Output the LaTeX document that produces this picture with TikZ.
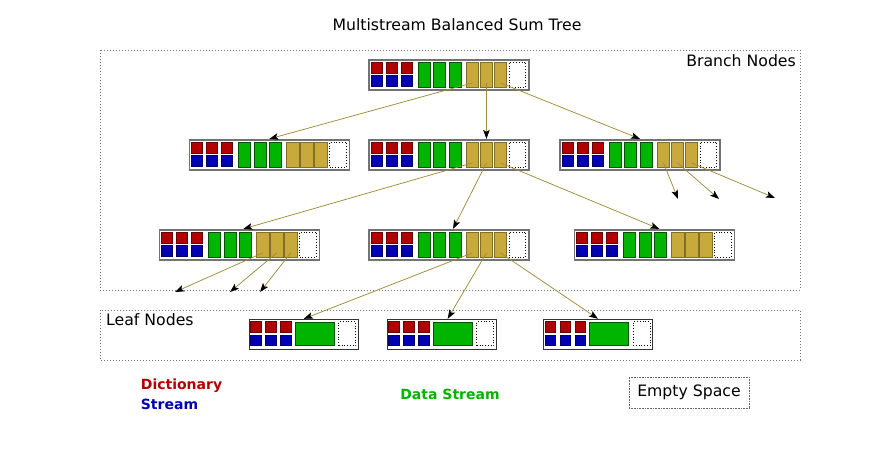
\documentclass[tikz,border=0pt]{standalone}
\usepackage{fontspec}
\setmainfont{DejaVu Sans}
\usetikzlibrary{arrows.meta,calc}

\definecolor{dictred}{RGB}{178,0,0}
\definecolor{streamblue}{RGB}{0,0,178}
\definecolor{datagreen}{RGB}{0,180,0}
\definecolor{sumgold}{RGB}{200,170,60}
\definecolor{linkolive}{RGB}{160,140,60}

% branch node: name, centre
\newcommand{\branchnode}[2]{%
	\node[branchbox] (#1) at (#2) {};
	\foreach \dx in {3,18,33} {
		\node[dictslot] at ([xshift=\dx pt,yshift=-3pt]#1.north west) {};
		\node[streamslot] at ([xshift=\dx pt,yshift=-16.5pt]#1.north west) {};
	}
	\foreach \i/\dx in {1/50,2/65.5,3/81}
		\node[dataslot] (#1-d\i) at ([xshift=\dx pt,yshift=-3pt]#1.north west) {};
	\foreach \i/\dx in {1/98,2/112,3/126}
		\node[sumslot] (#1-g\i) at ([xshift=\dx pt,yshift=-3pt]#1.north west) {};
	\node[emptyslot,minimum width=16.5pt] (#1-e) at ([xshift=141pt,yshift=-3pt]#1.north west) {};
}

% leaf node: name, centre
\newcommand{\leafnode}[2]{%
	\node[leafbox] (#1) at (#2) {};
	\foreach \dx in {2,17,32} {
		\node[dictslot,minimum size=10.5pt] at ([xshift=\dx pt,yshift=-2.7pt]#1.north west) {};
		\node[streamslot,minimum size=10.5pt] at ([xshift=\dx pt,yshift=-16.5pt]#1.north west) {};
	}
	\node[dataslot,minimum width=39pt,minimum height=23.5pt] (#1-d) at ([xshift=46.7pt,yshift=-3.3pt]#1.north west) {};
	\node[emptyslot,minimum width=17pt,minimum height=24pt] (#1-e) at ([xshift=90pt,yshift=-3pt]#1.north west) {};
}

\begin{document}
\begin{tikzpicture}[x=1pt,y=-1pt,
	slot/.style={anchor=north west,inner sep=0,outer sep=0,line width=.8pt},
	dictslot/.style={slot,minimum size=11pt,fill=dictred,draw=dictred!60!black},
	streamslot/.style={slot,minimum size=11pt,fill=streamblue,draw=streamblue!60!black},
	dataslot/.style={slot,minimum width=12pt,minimum height=25pt,fill=datagreen,draw=datagreen!45!black},
	sumslot/.style={slot,minimum width=12.5pt,minimum height=25pt,fill=sumgold,draw=sumgold!65!black},
	emptyslot/.style={slot,minimum height=25pt,fill=white,draw=black,dotted},
	branchbox/.style={draw=black!55,line width=1.6pt,fill=white,minimum width=160pt,minimum height=30pt,inner sep=0},
	leafbox/.style={draw=black!80,line width=1pt,fill=white,minimum width=109pt,minimum height=30pt,inner sep=0},
	region/.style={draw=black!55,line width=.8pt,dash pattern=on .8pt off 2.2pt},
	label/.style={inner sep=0,font=\fontsize{15.7}{18}\selectfont},
	legend/.style={inner sep=0,font=\fontsize{14}{17}\selectfont\bfseries},
	feed/.style={draw=linkolive,line width=.75pt,-{Stealth[color=black,length=9pt,width=6.5pt,inset=2pt]}}]
	\useasboundingbox (0,0) rectangle (880,450);

	% regions
	\draw[region] (100,50) rectangle (800,290);
	\draw[region] (100,310) rectangle (800,360);
	\node[label,anchor=base] (title) at (457,30.7) {Multistream Balanced Sum Tree};
	\node[label,anchor=base east] (branchtxt) at (796,66) {Branch Nodes};
	\node[label,anchor=base west] (leaftxt) at (106,325.3) {Leaf Nodes};

	% tree
	\branchnode{top}{449,74.7}
	\branchnode{l2a}{269.3,154.7}
	\branchnode{l2b}{449,154.7}
	\branchnode{l2c}{640,154.7}
	\branchnode{l3a}{239.3,244.7}
	\branchnode{l3b}{449,244.7}
	\branchnode{l3c}{654.3,244.7}
	\leafnode{lfa}{303.8,334.3}
	\leafnode{lfb}{441.7,334.3}
	\leafnode{lfc}{598,334.3}

	\path
	(678,199) coordinate (l2c-o1)
	(719,199) coordinate (l2c-o2)
	(775,198) coordinate (l2c-o3)
	(175,292) coordinate (l3a-o1)
	(230,292) coordinate (l3a-o2)
	(260,292) coordinate (l3a-o3)
	;

	% pointers
	\draw[feed] ([yshift=4pt]top-g1.south) -- (l2a.north);
	\draw[feed] ([yshift=4pt]top-g2.south) -- (l2b.north -| top-g2.south);
	\draw[feed] ([yshift=4pt]top-g3.south) -- (l2c.north);
	\draw[feed] ([yshift=4pt]l2b-g1.south) -- ([xshift=4pt]l3a.north);
	\draw[feed] ([yshift=4pt]l2b-g2.south) -- ([xshift=4pt]l3b.north);
	\draw[feed] ([yshift=4pt]l2b-g3.south) -- ([xshift=5pt]l3c.north);
	\foreach \i in {1,2,3} {
		\draw[feed] ([yshift=4pt]l2c-g\i.south) -- (l2c-o\i);
		\draw[feed] ([yshift=4pt]l3a-g\i.south) -- (l3a-o\i);
	}
	\draw[feed] ([yshift=4pt]l3b-g1.south) -- (lfa.north);
	\draw[feed] ([yshift=4pt]l3b-g2.south) -- ([xshift=6pt]lfb.north);
	\draw[feed] ([yshift=4pt]l3b-g3.south) -- (lfc.north);

	% legend
	\node[legend,anchor=base west,text=dictred] (dict) at (140.7,389.3) {Dictionary};
	\node[legend,anchor=base west,text=streamblue] (strm) at (140.7,409.3) {Stream};
	\node[legend,anchor=base,text=datagreen] (data) at (450,399.5) {Data Stream};
	\node[label,draw=black!60,line width=.7pt,dash pattern=on .6pt off 1pt,minimum width=120pt,minimum height=31pt] (empty) at (689,392.5) {Empty Space};
\end{tikzpicture}
\end{document}
